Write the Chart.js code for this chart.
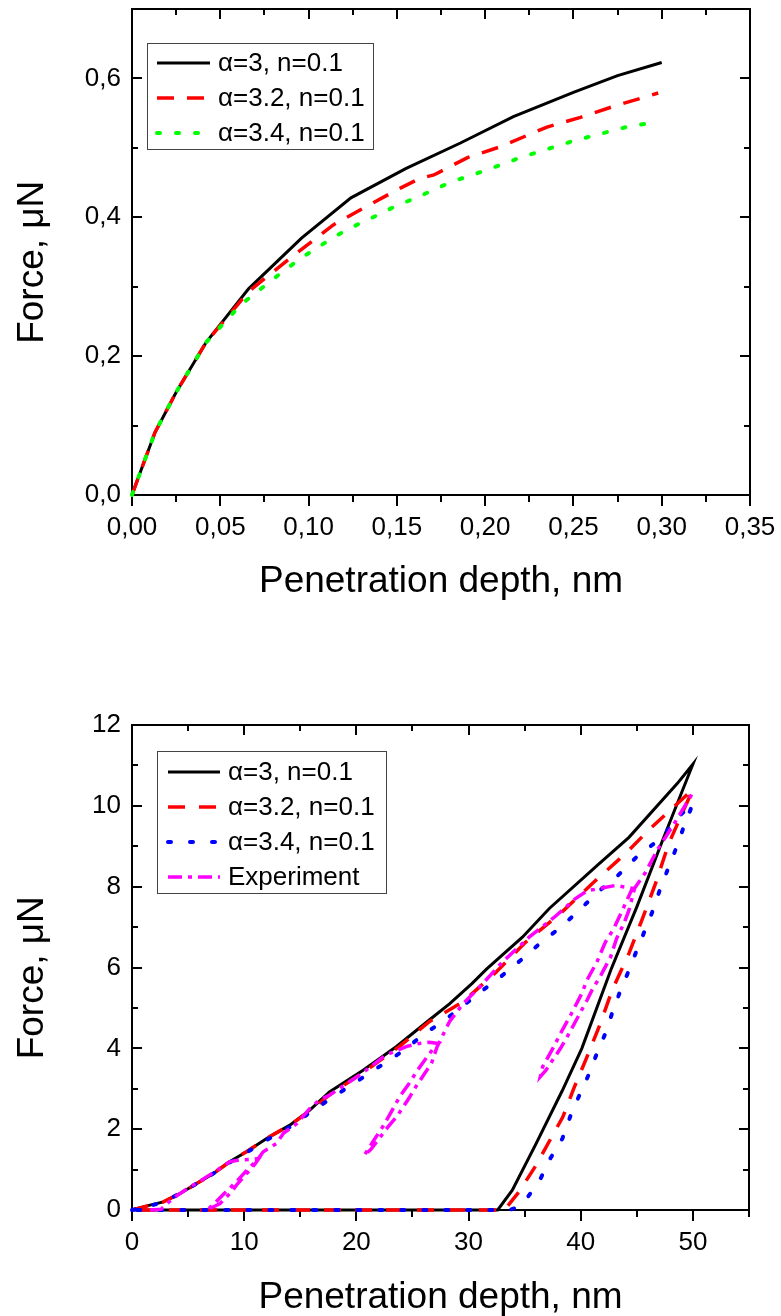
<!DOCTYPE html>
<html lang="en">
<head>
<meta charset="UTF-8">
<title>Force vs penetration depth</title>
<style>
  html, body { margin: 0; padding: 0; background: #fff; }
  .wrap { position: relative; width: 781px; height: 1316px; }
  .box { position: absolute; left: 0; width: 781px; }
  #top { top: 0; height: 600px; }
  #bottom { top: 600px; height: 716px; }
</style>
</head>
<body>
<div class="wrap">
  <div class="box" id="top"><canvas id="fig1"></canvas></div>
  <div class="box" id="bottom"><canvas id="fig2"></canvas></div>
</div>

<script src="https://cdn.jsdelivr.net/npm/chart.js"></script>
<script>
// ---- upper figure: loading curves, depth in nm, force in uN
const topXTicks = [0, 0.05, 0.10, 0.15, 0.20, 0.25, 0.30, 0.35];
const topXLabels = ['0,00', '0,05', '0,10', '0,15', '0,20', '0,25', '0,30', '0,35'];
const topYTicks = [0, 0.2, 0.4, 0.6];
const topYLabels = ['0,0', '0,2', '0,4', '0,6'];

const depthA = [0, 0.005, 0.013, 0.025, 0.042, 0.066, 0.096, 0.124, 0.155, 0.186, 0.216, 0.25, 0.275, 0.3];
const forceA = [0, 0.035, 0.09, 0.148, 0.22, 0.297, 0.37, 0.428, 0.47, 0.507, 0.545, 0.58, 0.604, 0.623];
const depthB = [0, 0.005, 0.013, 0.025, 0.042, 0.066, 0.088, 0.114, 0.133, 0.152, 0.163, 0.171, 0.19, 0.209, 0.235, 0.254, 0.273, 0.298];
const forceB = [0, 0.035, 0.09, 0.148, 0.22, 0.293, 0.338, 0.389, 0.416, 0.442, 0.456, 0.461, 0.486, 0.502, 0.53, 0.544, 0.56, 0.579];
const depthC = [0, 0.005, 0.013, 0.025, 0.042, 0.062, 0.073, 0.084, 0.095, 0.106, 0.116, 0.128, 0.139, 0.15, 0.162, 0.171, 0.182, 0.194, 0.205, 0.22, 0.235, 0.25, 0.265, 0.28, 0.294];
const forceC = [0, 0.035, 0.09, 0.148, 0.22, 0.275, 0.297, 0.319, 0.34, 0.358, 0.374, 0.39, 0.403, 0.417, 0.429, 0.44, 0.452, 0.462, 0.472, 0.486, 0.498, 0.51, 0.52, 0.53, 0.536];

// ---- lower figure: load / unload cycles
const botXTicks = [0, 10, 20, 30, 40, 50];
const botXLabels = ['0', '10', '20', '30', '40', '50'];
const botYTicks = [0, 2, 4, 6, 8, 10, 12];
const botYLabels = ['0', '2', '4', '6', '8', '10', '12'];

const depthD = [0, 1.6, 2.8, 4.3, 5.8, 7.24, 8.74, 10.2, 12.0, 14.07, 15.85, 17.6, 20.6, 23.55, 26.5, 28.3, 30.3, 31.6, 34.8, 37.2, 41.6, 44.3, 48.6, 50,
                47.3, 45.0, 42.7, 40.1, 38.35, 36.0, 33.9, 32.6, 0];
const forceD = [0, 0.12, 0.2, 0.41, 0.66, 0.9, 1.2, 1.44, 1.77, 2.1, 2.47, 2.92, 3.46, 4.04, 4.7, 5.1, 5.6, 5.96, 6.75, 7.46, 8.56, 9.22, 10.55, 11.03,
                9.15, 7.5, 5.95, 4.0, 2.95, 1.63, 0.49, 0, 0];
const depthE = [0, 1.6, 2.8, 4.3, 5.8, 7.24, 8.74, 10.2, 12.0, 14.07, 15.85, 17.6, 20.6, 23.85, 26.5, 29.5, 32.4, 35.1, 38.2, 41.2, 44.0, 46.06, 50,
                47.85, 46.67, 45.45, 44.3, 42.8, 41.76, 40.44, 39.4, 38.4, 36.0, 34.5, 33.2, 0];
const forceE = [0, 0.12, 0.2, 0.41, 0.66, 0.9, 1.2, 1.44, 1.77, 2.1, 2.45, 2.85, 3.4, 4.05, 4.66, 5.15, 5.87, 6.63, 7.34, 8.12, 8.82, 9.4, 10.41,
                9.07, 8.08, 7.17, 6.35, 5.44, 4.62, 3.71, 3.02, 2.3, 1.1, 0.45, 0, 0];
const depthF = [0, 1.6, 2.8, 4.3, 5.8, 7.24, 8.74, 10.2, 12.0, 14.07, 15.55, 17.3, 19.1, 20.7, 22.5, 24.3, 25.9, 27.7, 31.1, 32.9, 34.65, 36.3, 38.1, 39.85, 41.5, 43.4, 45.0, 47.25, 48.6, 50,
                49.2, 48.6, 47.85, 47.1, 46.5, 45.8, 45.0, 44.3, 43.55, 42.8, 42.2, 41.45, 40.7, 39.85, 39.1, 38.37, 37.3, 36.44, 35.26, 34.2, 33.6, 0];
const forceF = [0, 0.1, 0.2, 0.41, 0.66, 0.9, 1.18, 1.42, 1.73, 2.05, 2.35, 2.68, 3.01, 3.3, 3.63, 3.96, 4.33, 4.66, 5.4, 5.78, 6.18, 6.58, 6.97, 7.41, 7.86, 8.3, 8.74, 9.22, 9.7, 10.06,
                9.49, 9.02, 8.49, 7.96, 7.46, 6.97, 6.43, 5.93, 5.44, 4.87, 4.37, 3.88, 3.34, 2.82, 2.34, 1.77, 1.28, 0.79, 0.31, 0.05, 0, 0];
const depthG = [1.6, 2.6, 3.7, 5.0, 6.96, 8.7, 9.6, 10.5, 11.3,
                11.0, 10.5, 10.2, 9.33, 8.74, 7.85, 6.7,
                7.3, 8.2, 9.3, 10.3, 11.2, 11.7, 12.9, 13.5, 14.7, 15.85, 16.7, 17.6, 20.6, 22.6, 24.5, 25.6, 26.5, 27.3,
                27.0, 26.2, 25.45, 24.7, 23.85, 23.2, 22.35, 21.5, 20.7,
                21.3, 22.8, 23.6, 24.7, 25.3, 26.7, 27.2, 28.3, 29.5, 31.0, 33.0, 35.4, 37.8, 39.5, 40.6, 41.6, 43.1, 44.6,
                44.0, 42.96, 42.2, 41.45, 40.56, 40.1, 39.1, 38.2, 37.6, 36.6, 36.4,
                36.9, 37.3, 38.2, 38.96, 39.7, 40.56, 41.0, 41.8, 42.66, 43.2, 43.85, 44.3, 44.8, 45.8, 46.8, 48.2, 49.9];
const forceG = [0, 0.02, 0.3, 0.54, 0.87, 1.19, 1.24, 1.25, 1.27,
                1.15, 0.98, 0.9, 0.62, 0.41, 0.16, 0,
                0.15, 0.4, 0.7, 1.0, 1.25, 1.44, 1.65, 1.9, 2.14, 2.51, 2.72, 2.84, 3.4, 3.83, 4.05, 4.12, 4.15, 4.12,
                4.05, 3.75, 3.46, 3.13, 2.8, 2.47, 2.06, 1.7, 1.35,
                1.5, 2.05, 2.31, 2.77, 3.05, 3.63, 4.04, 4.66, 5.1, 5.52, 6.13, 6.75, 7.28, 7.7, 7.9, 7.95, 8.03, 7.96,
                7.59, 6.97, 6.63, 6.14, 5.69, 5.36, 4.82, 4.37, 4.04, 3.54, 3.3,
                3.46, 3.63, 4.0, 4.37, 4.75, 5.19, 5.44, 5.81, 6.26, 6.72, 7.09, 7.42, 7.96, 8.36, 8.9, 9.5, 10.28];

Chart.defaults.font.family = '"Liberation Sans", Arial, sans-serif';
Chart.defaults.color = '#000';

const pts = (xs, ys) => xs.map((x, i) => ({ x: x, y: ys[i] }));

// box around the plot; bottom ticks point out, the other three sides point in
const framePlugin = {
  id: 'frame',
  beforeDatasetsDraw(chart, args, o) {
    const { ctx, chartArea: a } = chart;
    const sx = chart.scales.x, sy = chart.scales.y;
    ctx.save();
    ctx.strokeStyle = '#000';
    ctx.lineWidth = 2;
    ctx.beginPath();
    const xMarks = [];
    for (let v = sx.min; v <= sx.max + 1e-9; v += o.xStep) xMarks.push(v);
    const yMarks = [];
    for (let v = sy.min; v <= sy.max + 1e-9; v += o.yStep) yMarks.push(v);
    xMarks.forEach((v, i) => {
      const px = Math.round(sx.getPixelForValue(v));
      const len = i % 2 === 0 ? o.major : o.minor;
      ctx.moveTo(px, a.bottom); ctx.lineTo(px, a.bottom + len + 1);
      ctx.moveTo(px, a.top); ctx.lineTo(px, a.top + len);
    });
    yMarks.forEach((v, i) => {
      const py = Math.round(sy.getPixelForValue(v));
      const len = i % 2 === 0 ? o.major : o.minor;
      ctx.moveTo(a.left, py); ctx.lineTo(a.left + len, py);
      ctx.moveTo(a.right, py); ctx.lineTo(a.right - len, py);
    });
    ctx.stroke();
    ctx.strokeRect(a.left, a.top, a.right - a.left, a.bottom - a.top);
    ctx.restore();
  }
};

// legend box drawn inside the plot
const legendBox = {
  id: 'legendBox',
  afterDraw(chart, args, o) {
    const ctx = chart.ctx;
    ctx.save();
    ctx.fillStyle = '#fff';
    ctx.fillRect(o.left, o.top, o.width, o.height);
    ctx.lineWidth = 1;
    ctx.strokeStyle = '#444';
    ctx.strokeRect(o.left + 0.5, o.top + 0.5, o.width, o.height);
    ctx.font = '26px "Liberation Sans", Arial, sans-serif';
    ctx.textBaseline = 'middle';
    chart.data.datasets.forEach((ds, i) => {
      const yy = o.firstRow + i * o.rowGap;
      ctx.beginPath();
      ctx.setLineDash(ds.borderDash || []);
      ctx.lineCap = ds.borderCapStyle || 'butt';
      ctx.lineWidth = ds.borderWidth;
      ctx.strokeStyle = ds.borderColor;
      ctx.moveTo(o.sampleX, yy);
      ctx.lineTo(o.sampleX + o.sampleLen, yy);
      ctx.stroke();
      ctx.setLineDash([]);
      ctx.fillStyle = '#000';
      ctx.fillText(ds.label, o.textX, yy + 1);
    });
    ctx.restore();
  }
};

function series(label, data, color, width, dash, cap, order) {
  return {
    label: label, data: data, showLine: true, borderColor: color, backgroundColor: color,
    borderWidth: width, borderDash: dash, borderCapStyle: cap, pointRadius: 0, tension: 0,
    order: order, clip: false
  };
}

function axes(o) {
  return {
    x: {
      type: 'linear', min: o.xMin, max: o.xMax,
      afterBuildTicks: s => { s.ticks = o.xTicks.map(v => ({ value: v })); },
      afterFit: s => { s.height = o.xHeight; s.paddingLeft = 0; s.paddingRight = 0; },
      grid: { display: false, drawTicks: false }, border: { display: false },
      ticks: { font: { size: 26 }, padding: 17, maxRotation: 0, autoSkip: false,
               callback: v => o.xLabels[o.xTicks.indexOf(v)] },
      title: { display: true, text: 'Penetration depth, nm', font: { size: 37 }, padding: { top: 0, bottom: -4 } }
    },
    y: {
      type: 'linear', min: o.yMin, max: o.yMax,
      afterBuildTicks: s => { s.ticks = o.yTicks.map(v => ({ value: v })); },
      afterFit: s => { s.width = 132; s.paddingTop = 0; s.paddingBottom = 0; },
      grid: { display: false, drawTicks: false }, border: { display: false },
      ticks: { font: { size: 26 }, padding: 11, autoSkip: false,
               callback: v => o.yLabels[o.yTicks.indexOf(v)] },
      title: { display: true, text: 'Force, \u03BCN\u00A0\u00A0', font: { size: 37 }, padding: { top: 11, bottom: 0 } }
    }
  };
}

new Chart(document.getElementById('fig1'), {
  type: 'scatter',
  data: {
    datasets: [
      series('\u03B1=3, n=0.1', pts(depthA, forceA), '#000000', 3, [], 'butt', 3),
      series('\u03B1=3.2, n=0.1', pts(depthB, forceB), '#ff0000', 3.5, [17, 13], 'butt', 2),
      series('\u03B1=3.4, n=0.1', pts(depthC, forceC), '#00ff00', 4, [3, 16], 'round', 1)
    ]
  },
  options: {
    responsive: true, maintainAspectRatio: false, animation: false, events: [],
    layout: { padding: { top: 9, right: 31, left: 0, bottom: 0 } },
    scales: axes({ xMin: 0, xMax: 0.35, yMin: 0, yMax: 0.7, xTicks: topXTicks, xLabels: topXLabels,
                   yTicks: topYTicks, yLabels: topYLabels, xHeight: 105 }),
    plugins: {
      legend: { display: false }, tooltip: { enabled: false },
      frame: { xStep: 0.025, yStep: 0.1, major: 10, minor: 6 },
      legendBox: { left: 147, top: 43, width: 226, height: 106, firstRow: 63, rowGap: 35,
                   sampleX: 157, sampleLen: 53, textX: 218 }
    }
  },
  plugins: [framePlugin, legendBox]
});

new Chart(document.getElementById('fig2'), {
  type: 'scatter',
  data: {
    datasets: [
      series('\u03B1=3, n=0.1', pts(depthD, forceD), '#000000', 3, [], 'butt', 4),
      series('\u03B1=3.2, n=0.1', pts(depthE, forceE), '#ff0000', 3.5, [17, 14], 'butt', 3),
      series('\u03B1=3.4, n=0.1', pts(depthF, forceF), '#0000ff', 4, [3, 19], 'round', 2),
      series('Experiment', pts(depthG, forceG), '#ff00ff', 3.5, [14, 6, 4, 6], 'butt', 1)
    ]
  },
  options: {
    responsive: true, maintainAspectRatio: false, animation: false, events: [],
    layout: { padding: { top: 125, right: 32, left: 0, bottom: 0 } },
    scales: axes({ xMin: 0, xMax: 55, yMin: 0, yMax: 12, xTicks: botXTicks, xLabels: botXLabels,
                   yTicks: botYTicks, yLabels: botYLabels, xHeight: 106 }),
    plugins: {
      legend: { display: false }, tooltip: { enabled: false },
      frame: { xStep: 5, yStep: 1, major: 10, minor: 6 },
      legendBox: { left: 157, top: 151, width: 229, height: 142, firstRow: 172, rowGap: 35,
                   sampleX: 168, sampleLen: 52, textX: 228 }
    }
  },
  plugins: [framePlugin, legendBox]
});
</script>
</body>
</html>
